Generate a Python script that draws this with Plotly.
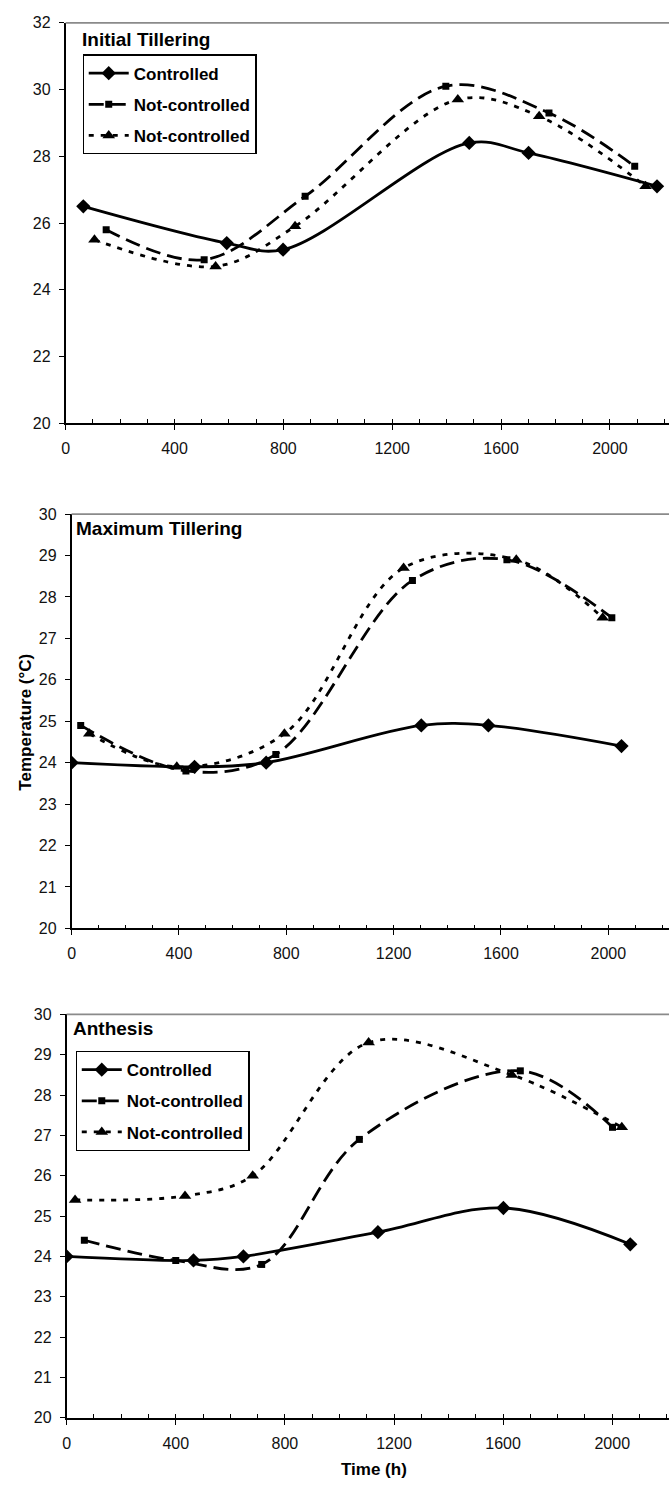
import plotly.graph_objects as go

# Canopy temperature (°C) against time (h) at three growth stages
it_ctrl_t = [65, 592, 799, 1483, 1701, 2173]
it_ctrl_v = [26.5, 25.4, 25.2, 28.4, 28.1, 27.1]
it_nc1_t = [149, 509, 880, 1397, 1776, 2091]
it_nc1_v = [25.8, 24.9, 26.8, 30.1, 29.3, 27.7]
it_nc2_t = [106, 551, 843, 1441, 1740, 2131]
it_nc2_v = [25.5, 24.7, 25.9, 29.7, 29.2, 27.1]

mt_ctrl_t = [0, 458, 725, 1303, 1553, 2049]
mt_ctrl_v = [24.0, 23.9, 24.0, 24.9, 24.9, 24.4]
mt_nc1_t = [34, 426, 761, 1270, 1622, 2013]
mt_nc1_v = [24.9, 23.8, 24.2, 28.4, 28.9, 27.5]
mt_nc2_t = [66, 392, 793, 1237, 1657, 1979]
mt_nc2_v = [24.7, 23.9, 24.7, 28.7, 28.9, 27.5]

an_ctrl_t = [0, 465, 648, 1141, 1601, 2066]
an_ctrl_v = [24.0, 23.9, 24.0, 24.6, 25.2, 24.3]
an_nc1_t = [65, 400, 715, 1073, 1663, 2001]
an_nc1_v = [24.4, 23.9, 23.8, 26.9, 28.6, 27.2]
an_nc2_t = [31, 434, 682, 1107, 1632, 2035]
an_nc2_v = [25.4, 25.5, 26.0, 29.3, 28.5, 27.2]

series_names = ["Controlled", "Not-controlled", "Not-controlled"]
panel_titles = ["Initial Tillering", "Maximum Tillering", "Anthesis"]
x_tick_vals = [0, 400, 800, 1200, 1600, 2000]

W, H = 669, 1489
FONT = "Liberation Sans, Arial, sans-serif"

styles = [
    dict(line=dict(color="black", width=2.8, dash="solid", shape="spline", smoothing=1.0),
         marker=dict(symbol="diamond", size=11, color="black")),
    dict(line=dict(color="black", width=2.8, dash="15px,7px", shape="spline", smoothing=1.0),
         marker=dict(symbol="square", size=7, color="black")),
    dict(line=dict(color="black", width=2.8, dash="5px,7px", shape="spline", smoothing=1.0),
         marker=dict(symbol="triangle-up", size=11, color="black")),
]

panels = [
    (it_ctrl_t, it_ctrl_v, it_nc1_t, it_nc1_v, it_nc2_t, it_nc2_v),
    (mt_ctrl_t, mt_ctrl_v, mt_nc1_t, mt_nc1_v, mt_nc2_t, mt_nc2_v),
    (an_ctrl_t, an_ctrl_v, an_nc1_t, an_nc1_v, an_nc2_t, an_nc2_v),
]
legend_of_panel = ["legend", None, "legend2"]

fig = go.Figure()
for p, data in enumerate(panels):
    ax = "" if p == 0 else str(p + 1)
    for s in range(3):
        lg = legend_of_panel[p]
        fig.add_trace(go.Scatter(
            x=data[2 * s], y=data[2 * s + 1], mode="lines+markers",
            name=series_names[s], xaxis="x" + ax, yaxis="y" + ax,
            showlegend=lg is not None, legend=lg if lg else "legend",
            legendgroup=f"p{p}s{s}", **styles[s]))

# pixel geometry of each plot area: left, top, bottom, x-extent
geo = [
    dict(left=62, top=15, bottom=420, xmax=2217, ymax=32, dy=2),
    dict(left=68, top=512, bottom=931, xmax=2226, ymax=30, dy=1),
    dict(left=63, top=1018, bottom=1426, xmax=2208, ymax=30, dy=1),
]

tick_font = dict(family=FONT, size=16, color="#111")
for p, g in enumerate(geo):
    ax = "" if p == 0 else str(p + 1)
    fig.layout["xaxis" + ax] = dict(
        domain=[g["left"] / W, 1], range=[0, g["xmax"]], anchor="y" + ax,
        tickvals=x_tick_vals, ticks="outside", ticklen=5, tickwidth=1.3,
        tickcolor="black", showline=True, linecolor="black", linewidth=1.6,
        showgrid=False, zeroline=False, tickfont=tick_font, ticklabelstandoff=5,
        minor=dict(dtick=100, tick0=0, ticks="inside", ticklen=4, tickwidth=1.2,
                   tickcolor="black", showgrid=False),
        fixedrange=True)
    fig.layout["yaxis" + ax] = dict(
        domain=[1 - g["bottom"] / H, 1 - g["top"] / H], range=[20, g["ymax"]],
        anchor="x" + ax, dtick=g["dy"], tick0=20, ticks="outside", ticklen=5,
        tickwidth=1.3, tickcolor="black", showline=True, linecolor="black",
        linewidth=1.6, showgrid=False, zeroline=False, tickfont=tick_font,
        ticklabelstandoff=5, fixedrange=True)
    # plot-area top border
    fig.add_shape(type="line", xref="x" + ax + " domain", yref="y" + ax + " domain",
                  x0=0, x1=1, y0=1, y1=1, line=dict(color="#8a8a8a", width=1.6))

title_pos = [(76, 32), (70, 527), (67, 1032)]
for (tx, ty), txt in zip(title_pos, panel_titles):
    fig.add_annotation(text=txt, x=tx / W, y=1 - ty / H, xref="paper", yref="paper",
                       xanchor="left", yanchor="middle", showarrow=False,
                       font=dict(family=FONT, size=19, color="black", weight="bold"))

fig.add_annotation(text="Temperature (°C)", x=22 / W, y=1 - 722 / H, xref="paper",
                   yref="paper", textangle=-90, showarrow=False,
                   xanchor="center", yanchor="middle",
                   font=dict(family=FONT, size=17, color="black", weight="bold"))
fig.add_annotation(text="Time (h)", x=372 / W, y=1 - 1478 / H, xref="paper",
                   yref="paper", showarrow=False, xanchor="center", yanchor="middle",
                   font=dict(family=FONT, size=17, color="black", weight="bold"))

legend_style = dict(bgcolor="white", bordercolor="black", borderwidth=1.2,
                    font=dict(family=FONT, size=17, color="black", weight="bold"),
                    xanchor="left", yanchor="top", xref="paper", yref="paper",
                    traceorder="grouped", tracegroupgap=6, itemwidth=40)
fig.update_layout(
    width=W, height=H, margin=dict(l=0, r=0, t=0, b=0),
    paper_bgcolor="white", plot_bgcolor="white",
    legend=dict(x=79 / W, y=1 - 47 / H, **legend_style),
    legend2=dict(x=72 / W, y=1 - 1055 / H, **legend_style),
    font=dict(family=FONT),
)

fig.write_html("out.html")
